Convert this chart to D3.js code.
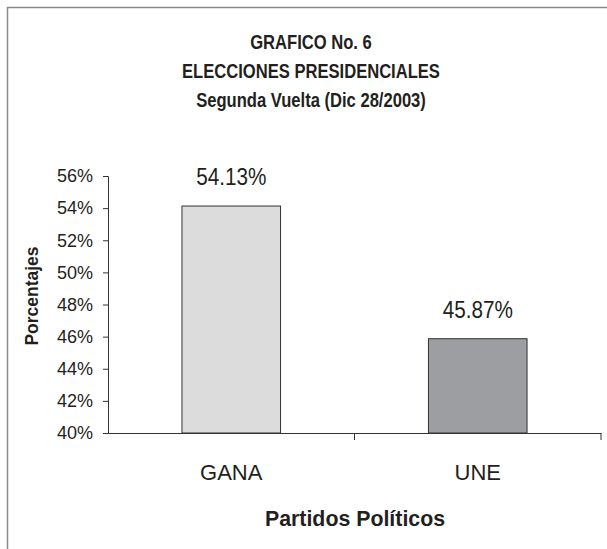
<!DOCTYPE html>
<html>
<head>
<meta charset="utf-8">
<script src="https://cdn.jsdelivr.net/npm/d3@7"></script>
<style>
  body { margin: 0; background: #fff; }
  text { font-family: "Liberation Sans Narrow", "Arial Narrow", "Liberation Sans", sans-serif; fill: #231f20; }
</style>
</head>
<body>
<svg id="chart" width="607" height="549"></svg>
<script>
// data
var partidos = ['GANA', 'UNE']
var porcentajes = [54.13, 45.87]
var colores = ['#dcdcdd', '#9d9ea1']
var yTicks = [40, 42, 44, 46, 48, 50, 52, 54, 56]
var titulos = ['GRAFICO No. 6', 'ELECCIONES PRESIDENCIALES', 'Segunda Vuelta (Dic 28/2003)']

var svg = d3.select('#chart')

// marco
svg.append('path')
  .attr('d', 'M7.5,549 V7.5 H607')
  .style('fill', 'none')
  .style('stroke', '#8a8a8a')
  .style('stroke-width', 1.5)

var margin = {top: 176, left: 108, right: 6, bottom: 116}
var width = 607 - margin.left - margin.right
var height = 549 - margin.top - margin.bottom

var g = svg.append('g')
  .attr('transform', 'translate(' + margin.left + ',' + margin.top + ')')

var x = d3.scaleBand()
  .domain(partidos)
  .range([0, width])

var y = d3.scaleLinear()
  .domain([40, 56])
  .range([height, 0])

var barW = x.bandwidth() * 0.4

// barras
g.selectAll('.bar')
  .data(partidos)
  .enter().append('rect')
  .attr('class', 'bar')
  .attr('x', function(d){ return x(d) + (x.bandwidth() - barW) / 2 })
  .attr('y', function(d, i){ return y(porcentajes[i]) })
  .attr('width', barW)
  .attr('height', function(d, i){ return height - y(porcentajes[i]) })
  .style('fill', function(d, i){ return colores[i] })
  .style('stroke', '#333')
  .style('stroke-width', 1)

// etiquetas de valor (fuente condensada: se estrecha en x)
g.selectAll('.valor')
  .data(partidos)
  .enter().append('text')
  .attr('class', 'valor')
  .attr('transform', function(d, i){
    return 'translate(' + (x(d) + x.bandwidth() / 2) + ',' + (y(porcentajes[i]) - 21) + ') scale(0.9,1)'
  })
  .attr('text-anchor', 'middle')
  .style('font-size', '23px')
  .text(function(d, i){ return porcentajes[i].toFixed(2) + '%' })

// eje y
var yAxis = g.append('g')
  .call(d3.axisLeft(y).tickValues(yTicks).tickSize(5).tickPadding(10)
    .tickFormat(function(d){ return d + '%' }))
yAxis.select('.domain').style('stroke', '#333')
yAxis.selectAll('.tick line').style('stroke', '#333')
yAxis.selectAll('.tick text')
  .style('font-size', '18px')
  .style('font-family', null)
  .attr('fill', null)

// eje x
var xAxis = g.append('g')
  .attr('transform', 'translate(0,' + height + ')')
  .call(d3.axisBottom(x).tickSize(0).tickPadding(31))
xAxis.select('.domain').attr('d', 'M0.5,0.5 H' + (width + 0.5)).style('stroke', '#333')
xAxis.selectAll('.tick text')
  .style('font-size', '22px')
  .style('font-family', null)
  .attr('fill', null)

// marcas entre categorias
g.selectAll('.sep')
  .data(partidos)
  .enter().append('line')
  .attr('class', 'sep')
  .attr('x1', function(d){ return x(d) + x.bandwidth() })
  .attr('x2', function(d){ return x(d) + x.bandwidth() })
  .attr('y1', height)
  .attr('y2', height + 7)
  .style('stroke', '#333')

// titulos de ejes
svg.append('text')
  .attr('transform', 'translate(355,526) scale(0.97,1)')
  .attr('text-anchor', 'middle')
  .style('font-size', '22px')
  .style('font-weight', 'bold')
  .text('Partidos Políticos')

svg.append('text')
  .attr('transform', 'translate(38,296) rotate(-90) scale(0.92,1)')
  .attr('text-anchor', 'middle')
  .style('font-size', '19px')
  .style('font-weight', 'bold')
  .text('Porcentajes')

// titulo
svg.selectAll('.titulo')
  .data(titulos)
  .enter().append('text')
  .attr('class', 'titulo')
  .attr('transform', function(d, i){ return 'translate(311,' + (49 + i * 29) + ') scale(0.79,1)' })
  .attr('text-anchor', 'middle')
  .style('font-size', '21px')
  .style('font-weight', 'bold')
  .text(function(d){ return d })
</script>
</body>
</html>
